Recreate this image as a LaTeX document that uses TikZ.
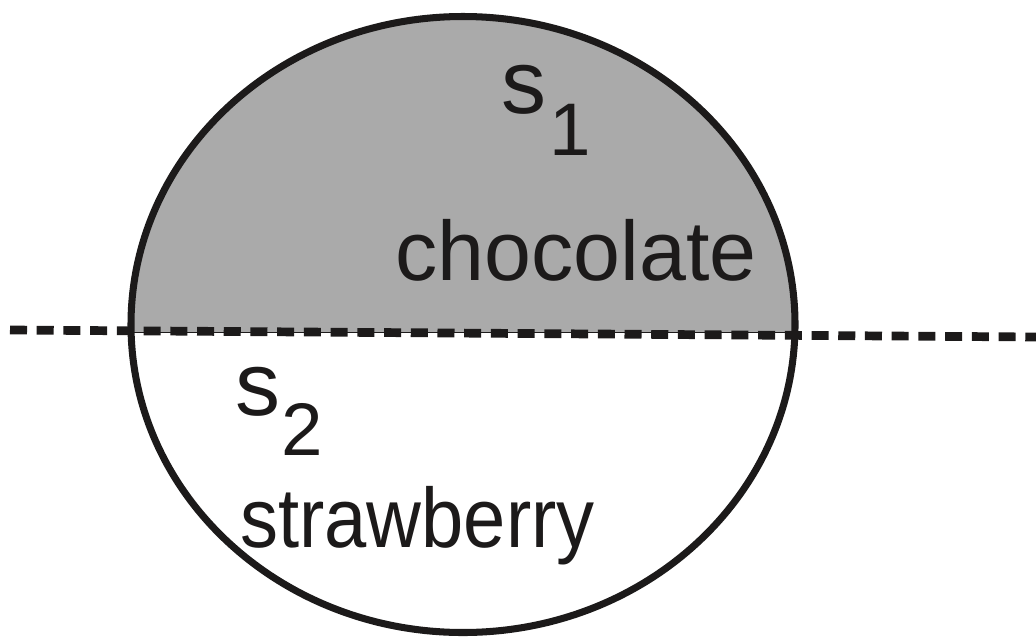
\documentclass[tikz,border=0pt]{standalone}
\usepackage{fontspec}
\setmainfont{Liberation Sans}
\usetikzlibrary{positioning, calc}
\definecolor{flavourgray}{HTML}{AAAAAA}
\definecolor{inkblack}{HTML}{1C1A1A}

\begin{document}
\begin{tikzpicture}[
    x=0.025cm, y=-0.025cm,
    label/.style={anchor=base west, inner sep=0pt, text=inkblack, font=\fontsize{60}{72}\selectfont},
    letter/.style={anchor=base west, inner sep=0pt, text=inkblack, font=\fontsize{64}{76}\selectfont},
    sublabel/.style={anchor=base west, inner sep=0pt, text=inkblack, font=\fontsize{53}{64}\selectfont},
    outline/.style={draw=inkblack, line width=5pt},
    cut/.style={draw=inkblack, line width=6.2pt, dash pattern=on 12.1pt off 6.9pt}
]
\useasboundingbox (0,0) rectangle (1036,639);

% Upper half (shaded)
\begin{scope}
  \clip (0,0) rectangle (1036,332);
  \fill[flavourgray] (463,324.5) ellipse [x radius=332, y radius=308];
\end{scope}
\draw[inkblack, line width=0.6pt] (133,332) -- (793,332);

% Cake outline
\draw[outline] (463,324.5) ellipse [x radius=332, y radius=308];

% Cut line
\coordinate (cutL) at (10,330);
\coordinate (cutR) at (1036,337);
\draw[cut] (cutL) -- (cutR);

% Labels
\node[letter] (s1) at (501,113) {s};
\node[sublabel] (s1idx) at (549,155) {1};
\node[label] (choc) at (395,280) {chocolate};
\node[letter] (s2) at (235,415) {s};
\node[sublabel] (s2idx) at (281,455) {2};
\node[label] (straw) at (240,547) {\scalebox{0.9}[1]{strawberry}};

\end{tikzpicture}
\end{document}
